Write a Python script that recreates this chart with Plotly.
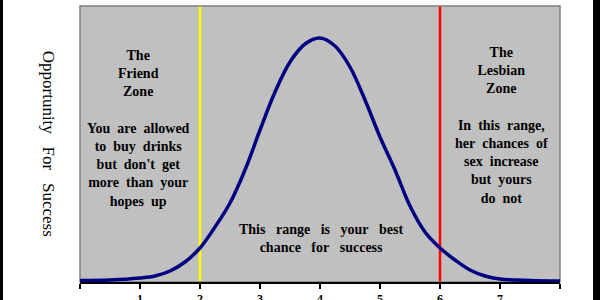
import plotly.graph_objects as go

# curve readings (x in chart units, y in arbitrary "opportunity" units)
curve_x = [0, 0.5, 1, 1.25, 1.5, 1.75, 2, 2.25, 2.5, 2.75, 3, 3.25, 3.5, 3.75, 4,
           4.25, 4.5, 4.75, 5, 5.25, 5.5, 5.75, 6, 6.25, 6.5, 6.75, 7, 7.5, 8]
curve_y = [1.5, 2, 4, 6, 11, 20, 34, 55, 79, 112, 152, 190, 220, 238, 244,
           236, 215, 182, 145, 112, 76, 50, 34, 22, 12, 6, 3, 1.5, 1]

zone_bounds = [2, 6]
zone_colors = ["#ffff00", "#ff0000"]

tick_vals = [0, 1, 2, 3, 4, 5, 6, 7, 8]
tick_text = ["", "1", "2", "3", "4", "5", "6", "7", ""]


def spaced(s, n):
    return s.replace(" ", "\u00a0" * n)


y_title = spaced("Opportunity For Success", 3)
left_lines = ["The", "Friend", "Zone", "", "You are allowed", "to buy drinks",
              "but don't get", "more than your", "hopes up"]
right_lines = ["The", "Lesbian", "Zone", "", "In this range,", "her chances of",
               "sex increase", "but yours", "do not"]
mid_lines = ["This range is your best", "chance for success"]

left_text = "<br>".join(spaced(l, 2) for l in left_lines)
right_text = "<br>".join(spaced(l, 2) for l in right_lines)
mid_text = "<br>".join(spaced(l, 3) for l in mid_lines)

serif = "Liberation Serif"

fig = go.Figure()
fig.add_trace(go.Scatter(x=curve_x, y=curve_y, mode="lines",
                         line=dict(color="#000080", width=3.5, shape="spline", smoothing=1.0),
                         hoverinfo="skip", showlegend=False))

shapes = []
for b, c in zip(zone_bounds, zone_colors):
    shapes.append(dict(type="line", xref="x", yref="paper", x0=b, x1=b, y0=0, y1=1,
                       line=dict(color=c, width=2.5), layer="below"))
# plot frame
shapes.append(dict(type="rect", xref="paper", yref="paper", x0=0, x1=1, y0=0, y1=1,
                   line=dict(color="#808080", width=1.5), layer="below"))
# black edge strips of the photo
shapes.append(dict(type="rect", xref="paper", yref="paper", x0=-0.1667, x1=-0.1604, y0=-0.2, y1=1.1,
                   line=dict(width=0), fillcolor="black"))
shapes.append(dict(type="rect", xref="paper", yref="paper", x0=1.0688, x1=1.09, y0=-0.2, y1=1.1,
                   line=dict(width=0), fillcolor="black"))

annotations = [
    dict(text=left_text, x=0.97, y=0.555, xref="x", yref="paper", showarrow=False,
         font=dict(family=serif, size=14, color="black", weight="bold"), align="center"),
    dict(text=right_text, x=7.03, y=0.567, xref="x", yref="paper", showarrow=False,
         font=dict(family=serif, size=14, color="black", weight="bold"), align="center"),
    dict(text=mid_text, x=4.01, y=0.089, xref="x", yref="paper", showarrow=False,
         font=dict(family=serif, size=14, color="black", weight="bold"), align="center"),
    dict(text=y_title, x=-0.064, y=0.5, xref="paper", yref="paper", showarrow=False,
         xanchor="center", yanchor="middle",
         textangle=90, font=dict(family=serif, size=17, color="black")),
]

fig.update_layout(
    width=600, height=300,
    margin=dict(l=80, r=40, t=6, b=18),
    paper_bgcolor="white", plot_bgcolor="#c0c0c0",
    shapes=shapes, annotations=annotations,
    xaxis=dict(range=[0, 8], tickvals=tick_vals, ticktext=tick_text, showgrid=False,
               zeroline=False, showline=True, linecolor="black", linewidth=1.5,
               ticks="outside", ticklen=5, tickcolor="black", tickwidth=1.5,
               tickfont=dict(family=serif, size=12, color="black", weight="bold"),
               automargin=False, fixedrange=True),
    yaxis=dict(range=[0, 276], showgrid=False, zeroline=False, showticklabels=False,
               showline=False, automargin=False, fixedrange=True),
)

fig.write_html("out.html")
